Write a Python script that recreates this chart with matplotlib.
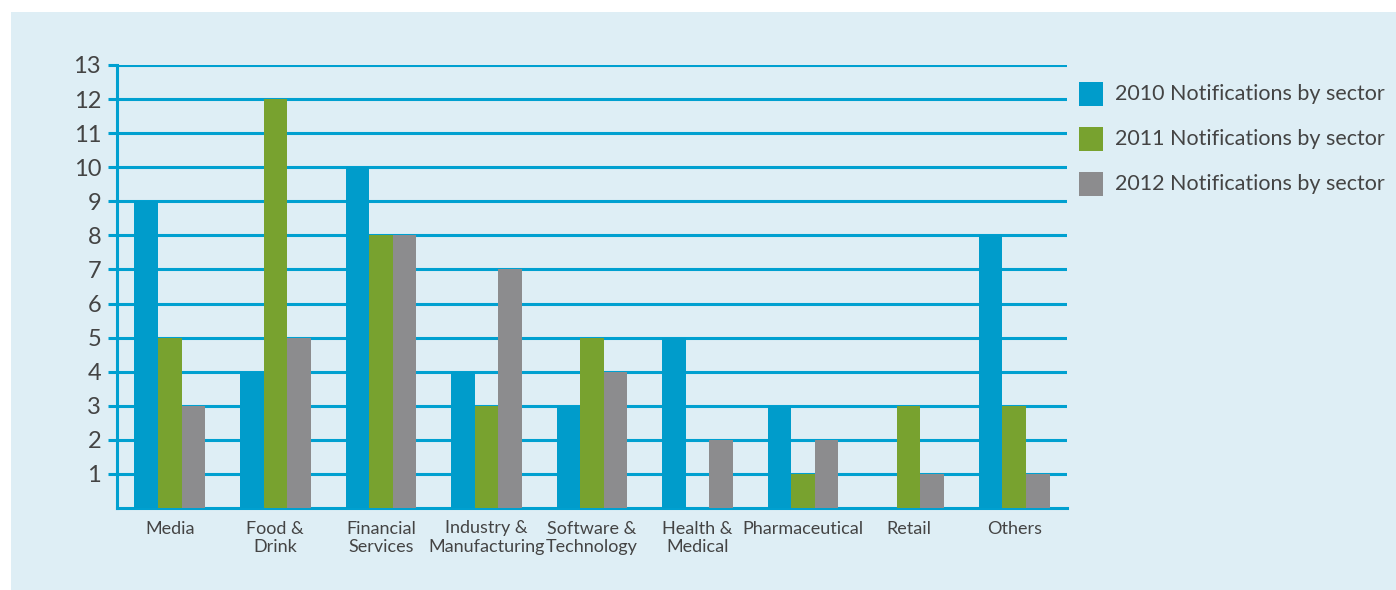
import matplotlib
matplotlib.use("Agg")
import matplotlib.pyplot as plt
from matplotlib.patches import Rectangle
import numpy as np

categories = ["Media", "Food &\nDrink", "Financial\nServices", "Industry &\nManufacturing",
              "Software &\nTechnology", "Health &\nMedical", "Pharmaceutical", "Retail", "Others"]
series_labels = ["2010 Notifications by sector", "2011 Notifications by sector",
                 "2012 Notifications by sector"]
values_2010 = [9, 4, 10, 4, 3, 5, 3, 0, 8]
values_2011 = [5, 12, 8, 3, 5, 0, 1, 3, 3]
values_2012 = [3, 5, 8, 7, 4, 2, 2, 1, 1]
yticks = list(range(1, 14))

colors = ["#009ccb", "#78a22f", "#8c8c8e"]
bg = "#deeef5"
grid_c = "#00a0d0"
text_c = "#444444"

plt.rcParams['font.family'] = ['Lato', 'DejaVu Sans']

fig = plt.figure(figsize=(13.96, 5.90), dpi=100)
fig.patches.append(Rectangle((11/1396, 0), 1 - 11/1396, 1 - 12/590,
                             transform=fig.transFigure, facecolor=bg, edgecolor='none', zorder=-5))

ax = fig.add_axes([117/1396, 1 - 508/590, (1067 - 117)/1396, (508 - 65)/590])
ax.set_facecolor('none')
ax.set_zorder(2)

x = np.arange(len(categories))
w = 0.223
for i, vals in enumerate([values_2010, values_2011, values_2012]):
    ax.bar(x + (i - 1) * w, vals, width=w, color=colors[i], zorder=3, linewidth=0)

ax.set_xlim(-0.5, 8.5)
ax.set_ylim(0, 13)
ax.set_yticks(yticks)
ax.set_yticklabels([str(t) for t in yticks], fontsize=17, color=text_c)
ax.set_xticks(x)
ax.set_xticklabels(categories, fontsize=13, color=text_c, linespacing=1.2)
ax.tick_params(axis='x', length=0, pad=9)
ax.tick_params(axis='y', length=6.5, width=2.2, color=grid_c, pad=5)

ax.yaxis.grid(True, color=grid_c, linewidth=2.2, zorder=1)
ax.set_axisbelow(True)
for s in ['top', 'right']:
    ax.spines[s].set_visible(False)
for s in ['left', 'bottom']:
    ax.spines[s].set_color(grid_c)
    ax.spines[s].set_linewidth(2.2)

# legend
for i, lab in enumerate(series_labels):
    yc = 94 + i * 45
    fig.patches.append(Rectangle((1079/1396, 1 - (yc + 12)/590), 24/1396, 24/590,
                                 transform=fig.transFigure, facecolor=colors[i],
                                 edgecolor='none', zorder=2))
    fig.text(1115/1396, 1 - yc/590, lab, fontsize=15.5, color=text_c, va='center', ha='left')

fig.savefig("out.png", dpi=100)
